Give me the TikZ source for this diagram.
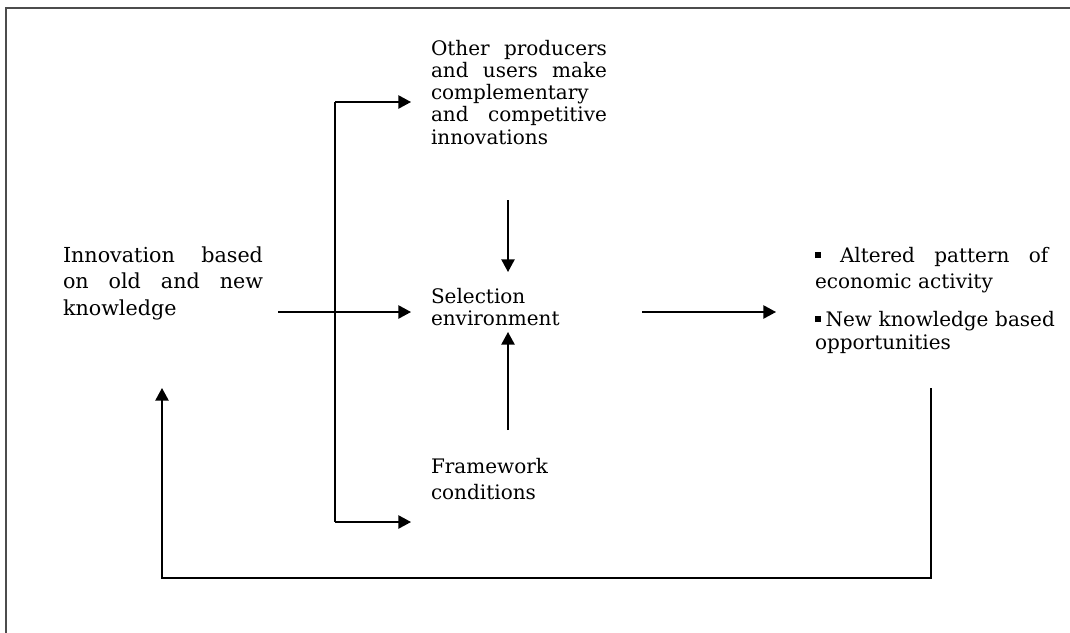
\documentclass[tikz,border=0pt]{standalone}
\usepackage{fontspec}
\setmainfont{DejaVu Serif}
\usetikzlibrary{arrows.meta}
\newcommand{\jline}[1]{\leavevmode\hbox to\linewidth{#1}}
\newcommand{\sqbul}{\rule[0.2em]{0.28em}{0.28em}}
\begin{document}
\begin{tikzpicture}[x=0.75pt,y=-0.75pt,
  txt/.style={anchor=base west,inner sep=0pt,outer sep=0pt,align=left},
  arr/.style={line width=1.1pt,-{Triangle[length=9.5pt,width=10pt]}},
  ln/.style={line width=1.1pt},
  frame/.style={line width=2pt,draw=black!70}]
\useasboundingbox (0,0) rectangle (1070,632);
\clip (0,0) rectangle (1070,632);
% frame (runs off the page on the right and bottom)
\draw[frame] (6,640) -- (6,8) -- (1080,8);
% texts
\node[txt,text width=132pt,font=\fontsize{15}{16.5}\selectfont] (other) at (431,55)
  {\jline{Other\hfill producers}\\ \jline{and\hfill users\hfill make}\\ complementary\\ \jline{and\hfill competitive}\\[1pt] innovations};
\node[txt,text width=150pt,font=\fontsize{15.5}{20}\selectfont] (innov) at (63,262)
  {\jline{Innovation\hfill based}\\ \jline{on\hfill old\hfill and\hfill new}\\ knowledge};
\node[txt,text width=110pt,font=\fontsize{15}{16.5}\selectfont] (sel) at (431,303)
  {Selection\\ environment};
\node[txt,text width=110pt,font=\fontsize{15}{20}\selectfont] (frm) at (431,473)
  {Framework\\ conditions};
\node[txt,text width=175pt,font=\fontsize{15}{19.5}\selectfont] (out) at (815,262)
  {\jline{\sqbul\hfill Altered\hfill pattern\hfill of}\\ economic activity\\[9pt] \jline{\sqbul\hspace{0.25em}New knowledge based\hss}\\[-2pt] opportunities};
% connector coordinates
\coordinate (mainS) at (278,312);
\coordinate (mainE) at (411,312);
\coordinate (brT) at (335,102);
\coordinate (brB) at (335,522);
\coordinate (topE) at (411,102);
\coordinate (botE) at (411,522);
\coordinate (dnS) at (508,200);
\coordinate (dnE) at (508,272);
\coordinate (upS) at (508,430);
\coordinate (upE) at (508,332);
\coordinate (rtS) at (642,312);
\coordinate (rtE) at (776,312);
\coordinate (fbA) at (931,388);
\coordinate (fbB) at (931,578);
\coordinate (fbC) at (162,578);
\coordinate (fbD) at (162,388);
% connectors
\draw[arr] (mainS) -- (mainE);
\draw[ln] (brT) -- (brB);
\draw[arr] (brT) -- (topE);
\draw[arr] (brB) -- (botE);
\draw[arr] (dnS) -- (dnE);
\draw[arr] (upS) -- (upE);
\draw[arr] (rtS) -- (rtE);
\draw[arr] (fbA) -- (fbB) -- (fbC) -- (fbD);
\end{tikzpicture}
\end{document}
